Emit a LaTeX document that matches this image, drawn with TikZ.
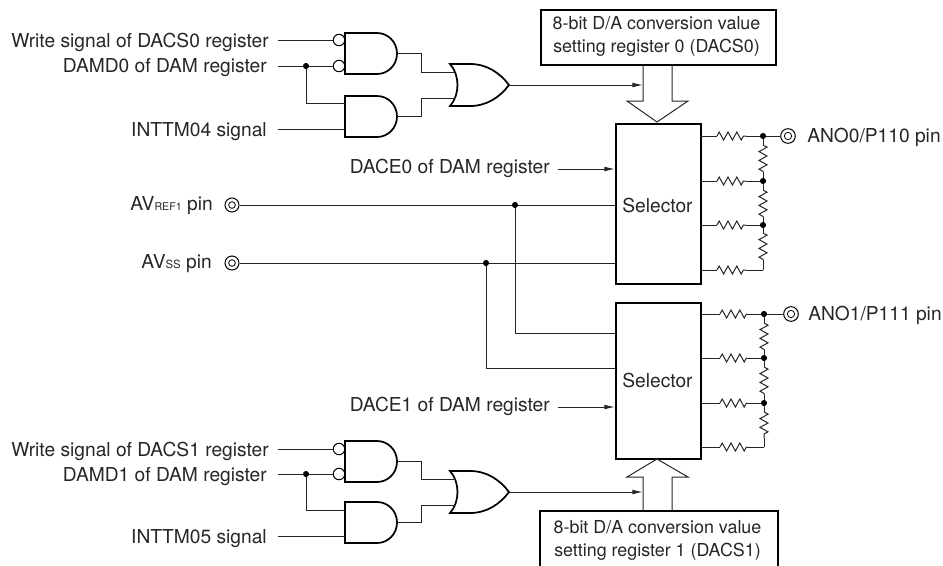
\documentclass[tikz,border=0pt]{standalone}
\usepackage{fontspec}
\setmainfont{TeX Gyre Heros}
\usetikzlibrary{arrows.meta,decorations.pathmorphing,calc}
\tikzset{
  wire/.style={line width=0.75pt,black!85},
  gatel/.style={line width=1.3pt,black,fill=white,line join=miter},
  heavy/.style={draw,line width=1.6pt,black},
  lbl/.style={anchor=base east,inner sep=0pt,font=\fontsize{14.4}{17}\selectfont,text=black!85},
  lblw/.style={anchor=base west,inner sep=0pt,font=\fontsize{14.4}{17}\selectfont,text=black!85},
  boxtxt/.style={inner sep=0pt,align=center,font=\fontsize{13.4}{17.25}\selectfont,text=black!85},
  seltxt/.style={inner sep=0pt,font=\fontsize{14.4}{17}\selectfont,text=black!85},
  arr/.style={wire,-{Latex[length=8pt,width=3.6pt]}},
  dotj/.style={circle,fill=black,inner sep=0pt,minimum size=4.6pt},
  bub/.style={circle,draw,line width=0.75pt,fill=white,inner sep=0pt,minimum size=8.6pt},
  term/.style={circle,draw,line width=0.75pt,fill=white,inner sep=0pt,minimum size=#1},
  res/.style={wire,decorate,decoration={zigzag,segment length=6.6pt,amplitude=3pt}},
}
% name, left x, top y
\newcommand{\andg}[3]{%
  \draw[gatel] (#2,#3) -- ({#2+32},#3) .. controls ({#2+43},#3) and ({#2+52},{#3+9}) .. ({#2+52},{#3+20.5})
    .. controls ({#2+52},{#3+32}) and ({#2+43},{#3+41}) .. ({#2+32},{#3+41}) -- (#2,{#3+41}) -- cycle;
  \coordinate (#1t) at (#2,{#3+7});
  \coordinate (#1b) at (#2,{#3+33});
  \coordinate (#1o) at ({#2+52},{#3+20.5});
}
\newcommand{\org}[3]{%
  \draw[gatel] (#2,#3) -- ({#2+20},#3) .. controls ({#2+37},#3) and ({#2+50},{#3+9}) .. ({#2+59},{#3+21})
    .. controls ({#2+50},{#3+33}) and ({#2+37},{#3+42}) .. ({#2+20},{#3+42}) -- (#2,{#3+42})
    .. controls ({#2+10},{#3+31}) and ({#2+10},{#3+11}) .. (#2,#3) -- cycle;
  \coordinate (#1t) at ({#2+5},{#3+8});
  \coordinate (#1b) at ({#2+5},{#3+34});
  \coordinate (#1o) at ({#2+59},{#3+21});
}
\begin{document}
\begin{tikzpicture}[x=0.75pt,y=-0.75pt]
\useasboundingbox (0,0) rectangle (943,565);

% --- boxes
\node[heavy,minimum width=176.25pt,minimum height=41.25pt,inner sep=0pt,anchor=north west] (dacs0) at (540,9) {};
\node[boxtxt] (dacs0t) at (656.5,36.5) {8-bit D/A conversion value\\setting register 0 (DACS0)};
\node[heavy,minimum width=63.75pt,minimum height=120pt,inner sep=0pt,anchor=north west] (sel0) at (615,123) {};
\node[seltxt] (sel0t) at (657.5,205) {Selector};
\node[heavy,minimum width=63.75pt,minimum height=117pt,inner sep=0pt,anchor=north west] (sel1) at (615,302) {};
\node[seltxt] (sel1t) at (657.5,380) {Selector};
\draw[heavy] (540,566) -- (540,511) -- (778,511) -- (778,566);
\node[boxtxt] (dacs1) at (657.5,540) {8-bit D/A conversion value\\setting register 1 (DACS1)};

% --- hollow arrows
\coordinate (h0a) at (643,64); \coordinate (h0b) at (672,64); \coordinate (h0t) at (657,122);
\draw[wire] (h0a) -- (643,101) -- (627,101) -- (h0t) -- (688,101) -- (672,101) -- (h0b);
\coordinate (h1a) at (643,511); \coordinate (h1b) at (672,511); \coordinate (h1t) at (657,459);
\draw[wire] (h1a) -- (643,477) -- (627,477) -- (h1t) -- (688,477) -- (672,477) -- (h1b);

% --- gates
\andg{a}{345}{33}
\andg{b}{345}{96}
\org{o}{450}{64}
\andg{c}{345}{441}
\andg{d}{345}{502}
\org{p}{450}{471}

% --- labels
\node[lbl] (l1) at (269,47) {Write signal of DACS0 register};
\node[lbl] (l2) at (267,72) {DAMD0 of DAM register};
\node[lbl] (l3) at (267,136) {INTTM04 signal};
\node[lbl] (l4) at (269,456) {Write signal of DACS1 register};
\node[lbl] (l5) at (267,481) {DAMD1 of DAM register};
\node[lbl] (l6) at (267,543) {INTTM05 signal};
\node[lbl] (l7) at (550,173) {DACE0 of DAM register};
\node[lbl] (l8) at (550,411) {DACE1 of DAM register};
\node[lbl] (l9) at (213,210) {AV{\fontsize{8}{8}\selectfont REF1} pin};
\node[lbl] (l10) at (212,268) {AV{\fontsize{8.5}{8}\selectfont SS} pin};
\node[lblw] (l11) at (807,142) {ANO0/P110 pin};
\node[lblw] (l12) at (808,320) {ANO1/P111 pin};

% --- input wires, upper gates
\coordinate (s1) at (278,40); \coordinate (s2) at (278,66); \coordinate (s3) at (278,129);
\node[bub] (ba) at (339,40) {}; \node[bub] (bb) at (339,66) {};
\draw[wire] (s1) -- (ba);
\draw[wire] (s2) -- (bb);
\node[dotj] (j1) at (306,66) {};
\draw[wire] (j1) |- (345,103);
\draw[wire] (s3) -- (345,129);
\draw[wire] (ao) -| (421,72) -- (ot);
\draw[wire] (bo) -| (421,98) -- (ob);
\draw[arr] (oo) -- (h0a|-oo);

% --- input wires, lower gates
\coordinate (s4) at (278,449); \coordinate (s5) at (278,474); \coordinate (s6) at (278,536);
\node[bub] (bc) at (339,449) {}; \node[bub] (bd) at (339,474) {};
\draw[wire] (s4) -- (bc);
\draw[wire] (s5) -- (bd);
\node[dotj] (j2) at (306,474) {};
\draw[wire] (j2) |- (345,510);
\draw[wire] (s6) -- (345,536);
\draw[wire] (co) -| (421,479) -- (pt);
\draw[wire] (do) -| (421,505) -- (pb);
\draw[arr] (po) -- (h1a|-po);

% --- enable arrows
\draw[arr] (558,169) -- (sel0.west|-0,169);
\draw[arr] (558,407) -- (sel1.west|-0,407);

% --- reference pins
\node[term=10.5pt] (tr) at (232,205) {};
\node[circle,draw,line width=0.6pt,inner sep=0pt,minimum size=5pt] at (tr) {};
\node[term=10.5pt] (ts) at (232,263) {};
\node[circle,draw,line width=0.6pt,inner sep=0pt,minimum size=5pt] at (ts) {};
\draw[wire] (tr) -- (sel0.west|-tr);
\draw[wire] (ts) -- (sel0.west|-ts);
\node[dotj] (j3) at (515,205) {};
\node[dotj] (j4) at (486,263) {};
\draw[wire] (j3) |- (sel1.west|-0,333);
\draw[wire] (j4) |- (sel1.west|-0,368);

% --- resistor ladder, selector 0
\node[dotj] (n01) at (763,136) {};
\node[dotj] (n02) at (763,181) {};
\node[dotj] (n03) at (763,225) {};
\coordinate (n04) at (763,270);
\node[term=11pt] (t0) at (788,136) {};
\node[circle,draw,line width=0.6pt,inner sep=0pt,minimum size=5.5pt] at (t0) {};
\draw[wire] (n01) -- (t0);
\foreach \y/\n in {136/n01,181/n02,225/n03,270/n04}{
  \draw[wire] (700,\y) -- (717,\y);
  \draw[res] (717,\y) -- (746,\y);
  \draw[wire] (746,\y) -- (\n);
}
\draw[wire] (n01) -- (763,145); \draw[res] (763,145) -- (763,172); \draw[wire] (763,172) -- (n02);
\draw[wire] (n02) -- (763,190); \draw[res] (763,190) -- (763,217); \draw[wire] (763,217) -- (n03);
\draw[wire] (n03) -- (763,233); \draw[res] (763,233) -- (763,260); \draw[wire] (763,260) -- (n04);

% --- resistor ladder, selector 1
\node[dotj] (n11) at (764,314) {};
\node[dotj] (n12) at (764,358) {};
\node[dotj] (n13) at (764,403) {};
\coordinate (n14) at (764,447);
\node[term=11pt] (t1) at (791,314) {};
\node[circle,draw,line width=0.6pt,inner sep=0pt,minimum size=5.5pt] at (t1) {};
\draw[wire] (n11) -- (t1);
\foreach \y/\n in {314/n11,358/n12,403/n13,447/n14}{
  \draw[wire] (702,\y) -- (720,\y);
  \draw[res] (720,\y) -- (747,\y);
  \draw[wire] (747,\y) -- (\n);
}
\draw[wire] (n11) -- (764,323); \draw[res] (764,323) -- (764,350); \draw[wire] (764,350) -- (n12);
\draw[wire] (n12) -- (764,367); \draw[res] (764,367) -- (764,395); \draw[wire] (764,395) -- (n13);
\draw[wire] (n13) -- (764,412); \draw[res] (764,412) -- (764,438); \draw[wire] (764,438) -- (n14);
\end{tikzpicture}
\end{document}
